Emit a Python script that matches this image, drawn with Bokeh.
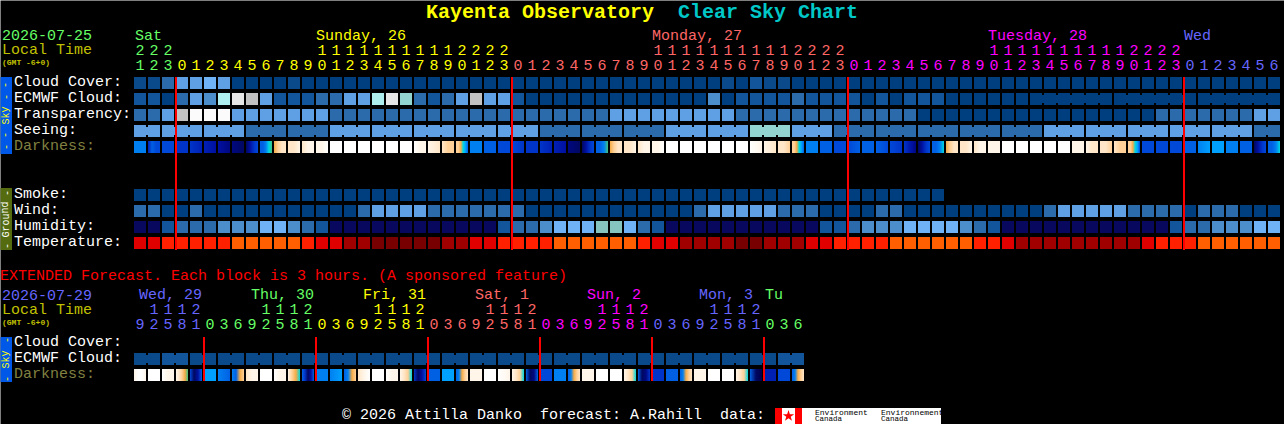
from bokeh.plotting import figure
from bokeh.core.properties import value
from bokeh.embed import file_html
from bokeh.resources import INLINE

# ---------- data ----------
cloud_cover = "bbdffgf" + "aaaab" + "a"*30 + "bacbb" + "a"*35
ecmwf_cloud = "ccadfeijkfcccddffijhd" + "cdfkffc" + "a"*13 + "e" + "a" + "ccccdcccc" + "aca" + "ccc" + "a"*24
transparency = "ddfklllfffffffddddddd" + "d"*13 + "f"*9 + "d"*13 + "a"*17 + "d"*7 + "ff"
seeing = "f"*8 + "d"*6 + "f"*15 + "d"*9 + "f"*6 + "hhh" + "fff" + "d"*15 + "f"*15 + "dd"
seeing_joins = [i for i in range(81) if (i + 1) % 3 != 2]
ecmwf_joins = [i for i in range(64, 81) if (i + 1) not in (70, 76)]
darkness = [
    "b", "emnn", "n", "r", "re", "ef", "fd", "dk", "kfrn", "mmbyg", "otpp", "ppc",
    "pcc", "ccW", "W", "W", "W", "W", "W", "W", "Wcc", "cp", "ptt", "ttoysm",
    "b", "m", "n", "nr", "r", "re", "ef", "dk", "kfrn", "mmbg", "otpp", "ppc",
    "pcc", "ccW", "W", "W", "W", "W", "W", "W", "Wc", "cp", "ppt", "ttoysm",
    "b", "m", "n", "nm", "m", "mn", "nr", "refd", "kfrn", "mmby", "otpp", "ppc",
    "pcc", "cc", "W", "W", "W", "W", "W", "cc", "cpp", "ppt", "ptt", "ttoysn",
    "n", "nn", "n", "m", "bs", "s", "b", "m", "kfrn", "mmby",
]
smoke = "a"*58
wind = ("ddaad" + "a"*11 + "dffff" + "ddddddd" + "a"*12 + "d" + "fffff" + "ddd" + "aaa" + "a" + "dd" + "a"*10
        + "d" + "fffff" + "dddd" + "a" + "ddd" + "aaa")
humidity = "mmcdddeeeggedc" + "m"*12 + "cddegggHHgdc" + "m"*11 + "ccd" + "eee" + "gggg" + "edc" + "m"*12 + "cd" + "deeegg"
temperature = ("eezzzzz" + "ooooo" + "zee" + "aa" + "kkkkk" + "aa" + "ee" + "zzzz" + "oooooo" + "zee" + "aaaa" + "kk"
               + "aaa" + "ee" + "zzzz" + "oooooo" + "zz" + "e" + "a"*9 + "e" + "zzz" + "oooooo")

ext_ecmwf = "bbcc" + "b"*42 + "cc"
ext_darkness = [
    "cWWc", "W", "Wcc", "cptog", "nkfm", "s", "bm", "bmot", "pcc", "W", "Wcc", "ctoy",
    "mrkfm", "b", "bs", "mbot", "pcW", "W", "Wcc", "cpty", "rkfn", "m", "s", "mbotp",
    "cc", "W", "Wc", "cpty", "mkdm", "n", "b", "mbotp", "cc", "W", "W", "cpty",
    "mkdr", "r", "m", "mbotp", "cc", "W", "W", "cpty", "mkx", "e", "n", "mbotp",
]
ext_joins = list(range(0, 47, 2))

sky_colors = dict(a="#003f7f", b="#0a4a8b", c="#13559b", d="#2c6bab", e="#4c8dcc", f="#5f9fe3",
                  g="#6fb2f5", h="#94d4d0", i="#aeeeee", j="#e6e6e6", k="#c1c1c1", l="#fbfbfb",
                  m="#08085f", H="#86c4c0")
temp_colors = dict(o="#ff5f00", z="#ff2000", e="#e00000", a="#a00000", k="#780000")
dark_colors = dict(W="#ffffff", c="#fff5e8", p="#ffe6c8", t="#ffd098", o="#f5ac48", g="#40c080",
                   y="#00d8e0", s="#00a0ff", b="#0080f0", m="#0060e4", n="#0048d8", r="#0034c8",
                   e="#0020b4", f="#0010a0", d="#000880", k="#000860", x="#00004c")

main_start_hour = 21
ext_hours = [9, 12, 15, 18, 21, 0, 3, 6] * 6
day_blue, day_green, day_yellow, day_pink, day_magenta = "#6666ff", "#66ff66", "#ffff00", "#ff6666", "#ff00ff"
main_day_spans = [(3, day_green), (24, day_yellow), (24, day_pink), (24, day_magenta), (7, day_blue)]
ext_day_spans = [(5, day_blue), (8, day_green), (8, day_yellow), (8, day_pink), (8, day_magenta), (8, day_blue), (3, day_green)]
main_day_labels = [("Sat", 135, day_green), ("Sunday, 26", 316, day_yellow), ("Monday, 27", 652, day_pink),
                   ("Tuesday, 28", 988, day_magenta), ("Wed", 1184, day_blue)]
ext_day_labels = [("Wed, 29", 139, day_blue), ("Thu, 30", 251, day_green), ("Fri, 31", 363, day_yellow),
                  ("Sat, 1", 475, day_pink), ("Sun, 2", 587, day_magenta), ("Mon, 3", 699, day_blue), ("Tu", 765, day_green)]
main_midnights = [3, 27, 51, 75]
ext_midnights = [5, 13, 21, 29, 37, 45]

# ---------- layout ----------
W, H = 1284, 424
X0, CW, Y0, RH = 134, 14, 77, 16
BLOCK_W, BLOCK_H = 12 / CW, 12 / RH
FONT = "Liberation Mono"
BASE_SHIFT = 0.3   # em: svg baseline correction

def px(x):
    return (x - X0) / CW

def py(y):
    return (y - Y0) / RH

# half-pixel offset cancels the canvas translation so that cells land on whole pixels
p = figure(width=W, height=H, output_backend="svg", toolbar_location=None,
           x_range=(px(0.5), px(W + 0.5)), y_range=(py(H + 0.5), py(0.5)),
           x_axis_type=None, y_axis_type=None, min_border=0,
           background_fill_color="#000000", border_fill_color="#000000", outline_line_color=None)
p.grid.visible = False

def blocks(seq, row, palette):
    xs = list(range(len(seq)))
    p.quad(left=xs, right=[x + BLOCK_W for x in xs], top=[row] * len(xs), bottom=[row + BLOCK_H] * len(xs),
           fill_color=[palette[c] for c in seq], line_color=None)

def joins(idx, row, palette, seq):
    p.quad(left=[i + BLOCK_W for i in idx], right=[i + 1 for i in idx],
           top=[row + 2 / RH] * len(idx), bottom=[row + 10 / RH] * len(idx),
           fill_color=[palette[seq[i]] for i in idx], line_color=None)

def hex_rgb(h):
    return [int(h[k:k + 2], 16) for k in (1, 3, 5)]

def mix(stops, palette, t):
    if len(stops) == 1:
        return palette[stops]
    s = t * (len(stops) - 1)
    k = min(int(s), len(stops) - 2)
    a, b = hex_rgb(palette[stops[k]]), hex_rgb(palette[stops[k + 1]])
    f = s - k
    return "#%02x%02x%02x" % tuple(round(a[j] + (b[j] - a[j]) * f) for j in range(3))

def gradient_blocks(seq, row, palette):
    l, r, c = [], [], []
    for i, stops in enumerate(seq):
        for k in range(12):
            l.append(i + k / CW)
            r.append(i + (k + 1) / CW)
            c.append(mix(stops, palette, (k + 0.5) / 12))
    p.quad(left=l, right=r, top=[row] * len(l), bottom=[row + BLOCK_H] * len(l),
           fill_color=c, line_color=None)

def text(t, x, y, color, size=15, bold=False, angle=0.0, align="left", baseline="alphabetic"):
    yy = y - BASE_SHIFT * size if baseline == "alphabetic" else y
    p.text([px(x)], [py(yy)], text=[t], text_color=color, text_font=value(FONT),
           text_font_size=f"{size}px", text_font_style="bold" if bold else "normal",
           angle=angle, text_align=align, text_baseline=baseline)

# rows
blocks(cloud_cover, 0, sky_colors)
blocks(ecmwf_cloud, 1, sky_colors)
joins(ecmwf_joins, 1, sky_colors, ecmwf_cloud)
blocks(transparency, 2, sky_colors)
blocks(seeing, 3, sky_colors)
joins(seeing_joins, 3, sky_colors, seeing)
gradient_blocks(darkness, 4, dark_colors)
blocks(smoke, 7, sky_colors)
blocks(wind, 8, sky_colors)
blocks(humidity, 9, sky_colors)
blocks(temperature, 10, temp_colors)
ER = py(337)
blocks(ext_ecmwf, ER + 1, sky_colors)
joins(ext_joins, ER + 1, sky_colors, ext_ecmwf)
gradient_blocks(ext_darkness, ER + 2, dark_colors)

# midnight lines
LW = 2 / CW
p.quad(left=[m - LW / 2 for m in main_midnights], right=[m + LW / 2 for m in main_midnights],
       top=[py(77)] * 4, bottom=[py(250)] * 4, fill_color="#ff0000", line_color=None)
p.quad(left=[m - LW / 2 for m in ext_midnights], right=[m + LW / 2 for m in ext_midnights],
       top=[py(337)] * 6, bottom=[py(381)] * 6, fill_color="#ff0000", line_color=None)

# side panels
p.quad(left=[px(0)] * 3, right=[px(12)] * 3, top=[py(77), py(188), py(337)], bottom=[py(154), py(250), py(382)],
       fill_color=["#0058e8", "#556b10", "#0058e8"], line_color=None)
for s, yy, col, sz in [("Sky", 115.5, "#ffff00", 10), ("- -", 91, "#ffff00", 10), ("- -", 141, "#ffff00", 10),
                       ("Ground", 219.5, "#ffffff", 10), ("-", 193, "#ffffff", 10), ("-", 246, "#ffffff", 10),
                       ("Sky", 359.5, "#ffff00", 10), ("-", 340, "#ffff00", 10), ("-", 379, "#ffff00", 10)]:
    text(s, 6, yy, col, size=sz, angle=1.5708, align="center", baseline="middle")

# hour labels
def hour_labels(hours, spans, y_tens, y_ones):
    colors = [c for n, c in spans for _ in range(n)]
    xs, ys, ts, cs = [], [], [], []
    for i, h in enumerate(hours):
        cx = px(X0 + 6) + i
        if h >= 10:
            xs.append(cx); ys.append(py(y_tens - BASE_SHIFT * 15)); ts.append(str(h // 10)); cs.append(colors[i])
        xs.append(cx); ys.append(py(y_ones - BASE_SHIFT * 15)); ts.append(str(h % 10)); cs.append(colors[i])
    p.text(xs, ys, text=ts, text_color=cs, text_font=value(FONT), text_font_size="15px",
           text_align="center", text_baseline="alphabetic")

hour_labels([(main_start_hour + i) % 24 for i in range(82)], main_day_spans, 54, 69)
hour_labels(ext_hours, ext_day_spans, 313.5, 328.5)

for t, x, c in main_day_labels:
    text(t, x, 41, c)
for t, x, c in ext_day_labels:
    text(t, x, 300, c)

# title
text("Kayenta Observatory", 426, 18, "#ffff00", size=20, bold=True)
text("Clear Sky Chart", 678, 18, "#00c8c8", size=20, bold=True)

# left header
text("2026-07-25", 2, 39, day_green)
text("Local Time", 2, 55, "#c0c000")
text("(GMT -6+0)", 2, 65, "#c0c000", size=8, bold=True)
text("2026-07-29", 2, 299, day_blue)
text("Local Time", 2, 315, "#c0c000")
text("(GMT -6+0)", 2, 325, "#c0c000", size=8, bold=True)

for t, y, c in [("Cloud Cover:", 87, "#ffffff"), ("ECMWF Cloud:", 103, "#ffffff"), ("Transparency:", 119, "#ffffff"),
                ("Seeing:", 135, "#ffffff"), ("Darkness:", 151, "#808040"),
                ("Smoke:", 199, "#ffffff"), ("Wind:", 215, "#ffffff"), ("Humidity:", 231, "#ffffff"),
                ("Temperature:", 247, "#ffffff"),
                ("Cloud Cover:", 347, "#ffffff"), ("ECMWF Cloud:", 363, "#ffffff"), ("Darkness:", 379, "#808040")]:
    text(t, 14, y, c)

text("EXTENDED Forecast. Each block is 3 hours. (A sponsored feature)", 0, 281, "#ff0000")

# footer
text("\u00a9 2026 Attilla Danko\u00a0\u00a0forecast: A.Rahill\u00a0\u00a0data:", 342, 420, "#ffffff")
p.quad(left=[px(775), px(782), px(795), px(802)], right=[px(782), px(795), px(802), px(941)],
       top=[py(408)] * 4, bottom=[py(424)] * 4,
       fill_color=["#ff0000", "#ffffff", "#ff0000", "#ffffff"], line_color=None)
p.scatter([px(788.5)], [py(416)], marker="star", size=12, fill_color="#ff0000", line_color=None)
text("Environment", 815, 414.5, "#000000", size=8)
text("Canada", 815, 421, "#000000", size=7.5)
text("Environnement", 881, 414.5, "#000000", size=8)
text("Canada", 881, 421, "#000000", size=7.5)

open("out.html", "w").write(file_html(p, INLINE))
